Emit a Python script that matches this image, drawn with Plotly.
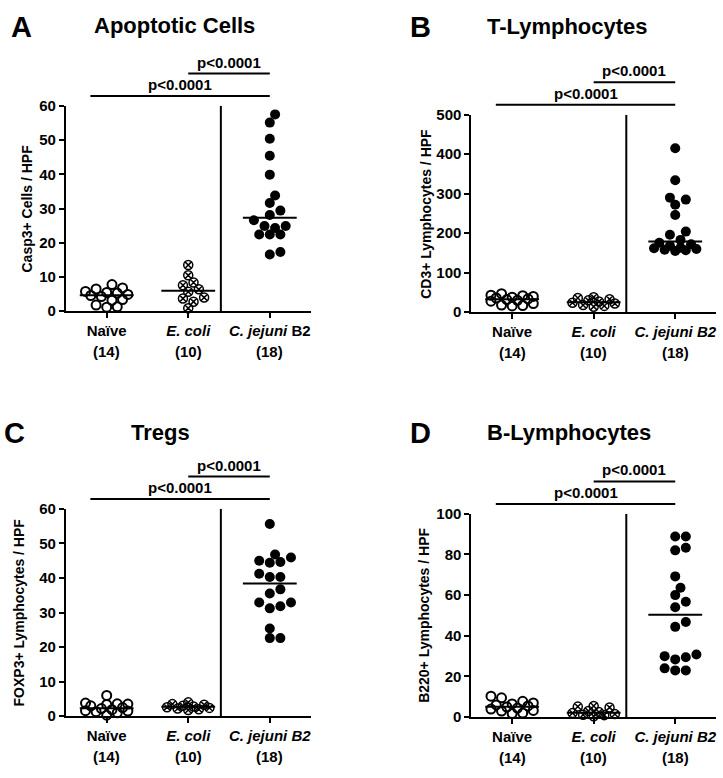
import numpy as np
import plotly.graph_objects as go

W, H = 723, 778

GROUPS = ["Naïve", "E. coli", "C. jejuni B2"]

# values (cells per high power field)
casp3_naive = [7.8, 6.8, 6.5, 5.8, 5.5, 5.3, 4.9, 4.6, 4.3, 3.4, 3.2, 1.8, 1.3, 1.2]
casp3_ecoli = [13.5, 10.5, 8.4, 7.6, 6.4, 5.7, 4.0, 3.7, 2.8, 0.9]
casp3_cjej = [57.5, 55.1, 50.4, 45.4, 39.9, 33.8, 31.6, 29.4, 28.1, 26.6, 24.9, 24.9,
              24.3, 22.4, 22.4, 22.4, 17.3, 16.6]
casp3_medians = [4.7, 6.0, 27.3]

cd3_naive = [47, 43, 42, 40, 38, 36, 34, 32, 30, 28, 22, 18, 17, 16]
cd3_ecoli = [38, 36, 33, 30, 27, 24, 22, 18, 16, 14]
cd3_cjej = [415, 334, 290, 285, 272, 246, 204, 196, 183, 176, 172, 168, 163, 162,
            160, 158, 157, 155]
cd3_medians = [33, 25, 179]

foxp3_naive = [6.0, 3.8, 3.6, 3.5, 3.4, 3.0, 2.5, 2.2, 1.9, 1.6, 1.5, 1.3, 1.0, 0.3]
foxp3_ecoli = [4.0, 3.5, 3.3, 3.0, 2.8, 2.6, 2.4, 2.2, 2.0, 1.8]
foxp3_cjej = [55.6, 46.8, 45.9, 45.0, 44.6, 44.4, 41.2, 40.3, 40.3, 36.7, 35.5, 32.9,
              32.9, 31.8, 31.2, 25.4, 22.6, 22.6]
foxp3_medians = [2.3, 2.7, 38.4]

b220_naive = [10.3, 9.5, 7.8, 7.0, 6.5, 6.0, 5.5, 5.0, 4.5, 4.0, 3.3, 3.0, 2.0, 1.8]
b220_ecoli = [5.5, 5.2, 4.8, 3.0, 2.5, 2.0, 1.5, 1.2, 1.0, 0.5]
b220_cjej = [88.8, 88.8, 83.3, 82.0, 69.2, 63.6, 60.0, 56.7, 54.0, 46.8, 44.4, 30.8,
             30.0, 29.5, 28.4, 24.0, 23.0, 23.0]
b220_medians = [5.1, 2.2, 50.3]

FONT = "Liberation Sans, Arial, Helvetica, sans-serif"

# panel boxes in pixels: left, right, top, bottom
PANELS = [
    dict(letter="A", title="Apoptotic Cells", ytitle="Casp3+ Cells / HPF",
         data=[casp3_naive, casp3_ecoli, casp3_cjej], medians=casp3_medians,
         ymax=60, dtick=10, box=(66, 311, 99, 309), letter_xy=(22, 18),
         title_xy=(175, 17), ytitle_x=27,
         ticks=["Naïve", "<i>E. coli</i>", "<i>C. jejuni</i> B2"]),
    dict(letter="B", title="T-Lymphocytes", ytitle="CD3+ Lymphocytes / HPF",
         data=[cd3_naive, cd3_ecoli, cd3_cjej], medians=cd3_medians,
         ymax=500, dtick=100, box=(472, 717, 108, 310), letter_xy=(421, 18),
         title_xy=(568, 18), ytitle_x=427,
         ticks=["Naïve", "<i>E. coli</i>", "<i>C. jejuni B2</i>"]),
    dict(letter="C", title="Tregs", ytitle="FOXP3+ Lymphocytes / HPF",
         data=[foxp3_naive, foxp3_ecoli, foxp3_cjej], medians=foxp3_medians,
         ymax=60, dtick=10, box=(66, 311, 511, 723), letter_xy=(15, 433),
         title_xy=(161, 433), ytitle_x=19,
         ticks=["Naïve", "<i>E. coli</i>", "<i>C. jejuni B2</i>"]),
    dict(letter="D", title="B-Lymphocytes", ytitle="B220+ Lymphocytes / HPF",
         data=[b220_naive, b220_ecoli, b220_cjej], medians=b220_medians,
         ymax=100, dtick=20, box=(472, 717, 516, 724), letter_xy=(421, 433),
         title_xy=(570, 433), ytitle_x=425,
         ticks=["Naïve", "<i>E. coli</i>", "<i>C. jejuni B2</i>"]),
]

MARKERS = [
    dict(symbol="circle-open", size=9, color="black", line=dict(width=2, color="black")),
    dict(symbol="circle-x-open", size=9, color="black", line=dict(width=1.5, color="black")),
    dict(symbol="circle", size=10, color="black", line=dict(width=0)),
]


def swarm(values, px_x, px_y, half=5.3, max_half=4, min_dist=8.5):
    """Compact dot placement on half-step columns, offsets in x data units."""
    vals = np.asarray(values, dtype=float)
    order = np.argsort(vals)
    cols = [0]
    for j in range(1, max_half + 1):
        cols += [j, -j]
    placed = []
    offs = np.zeros(len(vals))
    for i in order:
        y = vals[i] * px_y
        best, best_d = None, -1.0
        for c in cols:
            x = c * half
            d = min([np.hypot(x - px, y - py) for px, py in placed] or [1e9])
            if d >= min_dist:
                best = c
                break
            if d > best_d:
                best, best_d = c, d
        placed.append((best * half, y))
        offs[i] = best * half / px_x
    return offs


def px2paper(x=None, y=None):
    if x is not None:
        return x / W
    return 1 - y / H


fig = go.Figure()
shapes = []
annotations = []
txt = dict(family=FONT, weight="bold", color="black")

for k, p in enumerate(PANELS):
    n = "" if k == 0 else str(k + 1)
    xa, ya = "x" + n, "y" + n
    left, right, top, bottom = p["box"]
    px_x = (right - left) / 3.0
    px_y = (bottom - top) / p["ymax"]
    hpx = bottom - top

    for g, vals in enumerate(p["data"]):
        offs = swarm(vals, px_x, px_y)
        fig.add_trace(go.Scatter(
            x=g + offs, y=vals, mode="markers", marker=MARKERS[g],
            xaxis=xa, yaxis=ya, cliponaxis=False, showlegend=False,
            hoverinfo="y"))
        m = p["medians"][g]
        fig.add_trace(go.Scatter(
            x=[g - 0.33, g + 0.33], y=[m, m], mode="lines",
            line=dict(color="black", width=2), xaxis=xa, yaxis=ya,
            cliponaxis=False, showlegend=False, hoverinfo="skip"))
        annotations.append(dict(
            x=g, xref=xa, y=-41 / hpx, yref=ya + " domain", text=f"({len(vals)})",
            showarrow=False, font=dict(size=15, **txt),
            xanchor="center", yanchor="middle"))

    # separator between controls and infected group
    shapes.append(dict(type="line", xref=xa, yref=ya, x0=1.4, x1=1.4, y0=0,
                       y1=p["ymax"], line=dict(color="black", width=2)))
    # significance bars
    for x0, x1, dy in [(-0.2, 2.0, 10), (1.0, 2.0, 33)]:
        yy = 1 + dy / hpx
        shapes.append(dict(type="line", xref=xa, yref=ya + " domain", x0=x0, x1=x1,
                           y0=yy, y1=yy, line=dict(color="black", width=2)))
        annotations.append(dict(
            x=(x0 + x1) / 2, xref=xa, y=yy + 1 / hpx, yref=ya + " domain",
            text="p&lt;0.0001", showarrow=False, xanchor="center", yanchor="bottom",
            font=dict(size=15, **txt)))

    annotations.append(dict(
        x=px2paper(x=p["letter_xy"][0]), y=px2paper(y=p["letter_xy"][1]),
        xref="paper", yref="paper", text=p["letter"], showarrow=False,
        xanchor="center", yanchor="middle", font=dict(size=29, **txt)))
    annotations.append(dict(
        x=px2paper(x=p["title_xy"][0]), y=px2paper(y=p["title_xy"][1]),
        xref="paper", yref="paper", text=p["title"], showarrow=False,
        xanchor="center", yanchor="middle", font=dict(size=22, **txt)))
    annotations.append(dict(
        x=px2paper(x=p["ytitle_x"]), xref="paper", y=0.5, yref=ya + " domain",
        text=p["ytitle"], textangle=-90, showarrow=False,
        xanchor="center", yanchor="middle", font=dict(size=14, **txt)))

    axis_common = dict(showline=True, linewidth=2, linecolor="black", showgrid=False,
                       zeroline=False, ticks="outside", ticklen=5, tickwidth=2,
                       tickcolor="black", tickfont=dict(size=15, **txt))
    fig.layout["xaxis" + n] = dict(
        domain=[left / W, right / W], range=[-0.5, 2.5], tickvals=[0, 1, 2],
        ticktext=p["ticks"], anchor=ya, fixedrange=True, **axis_common)
    fig.layout["yaxis" + n] = dict(
        domain=[1 - bottom / H, 1 - top / H], range=[0, p["ymax"]], dtick=p["dtick"],
        anchor=xa, fixedrange=True, **axis_common)

fig.update_layout(
    width=W, height=H, margin=dict(l=0, r=0, t=0, b=0),
    paper_bgcolor="white", plot_bgcolor="white",
    font=dict(family=FONT, color="black"),
    shapes=shapes, annotations=annotations, showlegend=False)

fig.write_html("out.html", config={"displayModeBar": False},
               post_script="document.body.style.margin='0';")
